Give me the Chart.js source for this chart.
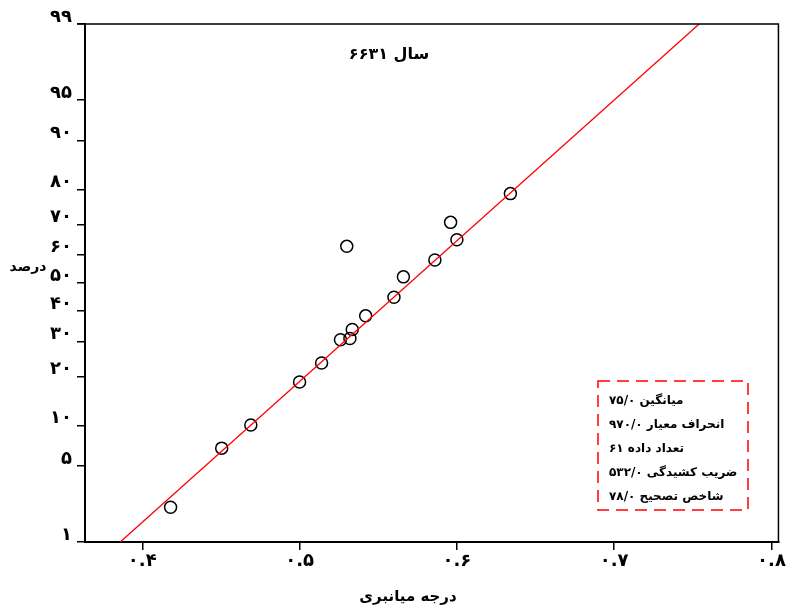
<!DOCTYPE html>
<html>
<head>
<meta charset="utf-8">
<script src="https://cdn.jsdelivr.net/npm/chart.js@4.4.1/dist/chart.umd.min.js"></script>
<style>
  html, body { margin: 0; padding: 0; background: #fff; }
  #wrap { width: 787px; height: 606px; }
</style>
</head>
<body>
<div id="wrap"><canvas id="chart" width="787" height="606"></canvas></div>
<script>
const degree = [0.418, 0.4505, 0.469, 0.500, 0.514, 0.526, 0.532, 0.5335, 0.542, 0.530, 0.560, 0.566, 0.586, 0.600, 0.596, 0.634];
const percent = [2.2, 6.9, 10.1, 18.7, 23.6, 30.5, 30.9, 33.8, 38.4, 62.9, 44.9, 52.2, 58.2, 65.1, 70.7, 78.9];

// fitted normal line, from 1% to 99%
const fitDegree = [0.386, 0.754];
const fitPercent = [1, 99];

const xTicks = [0.4, 0.5, 0.6, 0.7, 0.8];
const xTickLabels = ['۰.۴', '۰.۵', '۰.۶', '۰.۷', '۰.۸'];
const yTicks = [1, 5, 10, 20, 30, 40, 50, 60, 70, 80, 90, 95, 99];
const yTickLabels = ['۱', '۵', '۱۰', '۲۰', '۳۰', '۴۰', '۵۰', '۶۰', '۷۰', '۸۰', '۹۰', '۹۵', '۹۹'];

const chartTitle = 'سال ۶۶۳۱';
const xTitle = 'درجه میانبری';
const yTitle = 'درصد';
const stats = ['میانگین ۷۵/۰', 'انحراف معیار ۹۷۰/۰', 'تعداد داده ۶۱', 'ضریب کشیدگی ۵۳۲/۰', 'شاخص تصحیح ۷۸/۰'];

const FONT = '"DejaVu Sans", sans-serif';

// inverse normal cdf (Acklam), used for the probability axis
function probit(p) {
  const a = [-3.969683028665376e+01, 2.209460984245205e+02, -2.759285104469687e+02, 1.383577518672690e+02, -3.066479806614716e+01, 2.506628277459239e+00];
  const b = [-5.447609879822406e+01, 1.615858368580409e+02, -1.556989798598866e+02, 6.680131188771972e+01, -1.328068155288572e+01];
  const c = [-7.784894002430293e-03, -3.223964580411365e-01, -2.400758277161838e+00, -2.549732539343734e+00, 4.374664141464968e+00, 2.938163982698783e+00];
  const d = [7.784695709041462e-03, 3.224671290700398e-01, 2.445134137142996e+00, 3.754408661907416e+00];
  const pl = 0.02425;
  let q, r;
  if (p < pl) {
    q = Math.sqrt(-2 * Math.log(p));
    return (((((c[0]*q+c[1])*q+c[2])*q+c[3])*q+c[4])*q+c[5]) / ((((d[0]*q+d[1])*q+d[2])*q+d[3])*q+1);
  }
  if (p > 1 - pl) {
    q = Math.sqrt(-2 * Math.log(1 - p));
    return -(((((c[0]*q+c[1])*q+c[2])*q+c[3])*q+c[4])*q+c[5]) / ((((d[0]*q+d[1])*q+d[2])*q+d[3])*q+1);
  }
  q = p - 0.5;
  r = q * q;
  return (((((a[0]*r+a[1])*r+a[2])*r+a[3])*r+a[4])*r+a[5])*q / (((((b[0]*r+b[1])*r+b[2])*r+b[3])*r+b[4])*r+1);
}

const points = degree.map((x, i) => ({ x: x, y: probit(percent[i] / 100) }));
const fitLine = fitDegree.map((x, i) => ({ x: x, y: probit(fitPercent[i] / 100) }));

const decor = {
  id: 'decor',
  afterDraw(chart) {
    const { ctx, chartArea: a } = chart;
    ctx.save();

    // top and right frame
    ctx.strokeStyle = '#000';
    ctx.lineWidth = 1.5;
    ctx.beginPath();
    ctx.moveTo(a.left - 8, a.top);
    ctx.lineTo(a.right, a.top);
    ctx.lineTo(a.right, a.bottom);
    ctx.stroke();

    ctx.direction = 'rtl';
    ctx.fillStyle = '#000';
    ctx.textBaseline = 'middle';

    ctx.textAlign = 'center';
    ctx.font = 'bold 16px ' + FONT;
    ctx.fillText(chartTitle, 389, 55);

    ctx.font = 'bold 14px ' + FONT;
    ctx.fillText(yTitle, 28, 267);
    ctx.font = 'bold 15px ' + FONT;
    ctx.fillText(xTitle, 408, 597);

    // stats box
    ctx.strokeStyle = 'red';
    ctx.lineWidth = 1.5;
    ctx.setLineDash([12, 7]);
    ctx.strokeRect(598, 381, 150, 129);
    ctx.setLineDash([]);

    ctx.textAlign = 'left';
    ctx.font = 'bold 12px ' + FONT;
    stats.forEach((s, i) => ctx.fillText(s, 609, 401 + 24 * i));

    ctx.restore();
  }
};

new Chart(document.getElementById('chart'), {
  type: 'scatter',
  data: {
    datasets: [{
      type: 'line',
      data: fitLine,
      borderColor: 'red',
      borderWidth: 1.3,
      pointRadius: 0,
      fill: false
    }, {
      data: points,
      pointStyle: 'circle',
      pointRadius: 6,
      borderWidth: 1.5,
      borderColor: '#000',
      backgroundColor: 'rgba(0,0,0,0)'
    }]
  },
  options: {
    responsive: false,
    animation: false,
    layout: { padding: { top: 24, right: 6, left: 0, bottom: 0 } },
    plugins: { legend: { display: false }, tooltip: { enabled: false } },
    scales: {
      x: {
        type: 'linear',
        min: 0.3636,
        max: 0.8044,
        afterBuildTicks: (s) => { s.ticks = xTicks.map(v => ({ value: v })); },
        afterFit: (s) => { s.height = 64; },
        ticks: {
          callback: (v, i) => xTickLabels[i],
          font: { family: FONT, size: 18, weight: 'bold' },
          color: '#000',
          padding: 1,
          maxRotation: 0
        },
        grid: { drawOnChartArea: false, tickLength: 8, color: '#000', lineWidth: 1.5 },
        border: { color: '#000', width: 2 }
      },
      y: {
        type: 'linear',
        min: probit(0.01),
        max: probit(0.99),
        afterBuildTicks: (s) => { s.ticks = yTicks.map(p => ({ value: probit(p / 100) })); },
        afterFit: (s) => { s.width = 85; },
        ticks: {
          callback: (v, i) => yTickLabels[i],
          font: { family: FONT, size: 18, weight: 'bold' },
          color: '#000',
          padding: 5,
          labelOffset: -7
        },
        grid: { drawOnChartArea: false, tickLength: 8, color: '#000', lineWidth: 1.5 },
        border: { color: '#000', width: 2 }
      }
    }
  },
  plugins: [decor]
});
</script>
</body>
</html>
